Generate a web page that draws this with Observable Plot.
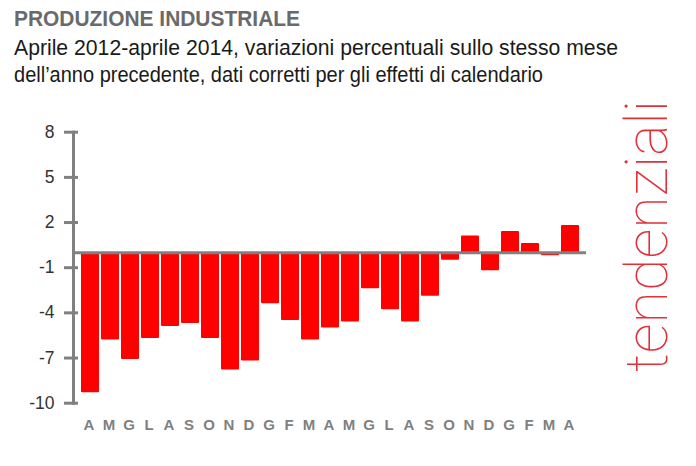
<!DOCTYPE html>
<html>
<head>
<meta charset="utf-8">
<script src="https://cdn.jsdelivr.net/npm/d3@7"></script>
<script src="https://cdn.jsdelivr.net/npm/@observablehq/plot@0.6"></script>
<style>
  html, body { margin: 0; padding: 0; background: #fff; }
  #wrap { position: relative; width: 696px; height: 466px; overflow: hidden; }
  .hd { position: absolute; left: 14px; font-family: "Liberation Sans", Arial, sans-serif; white-space: nowrap; transform-origin: 0 0; }
  #title { top: 6px; font-weight: bold; font-size: 22px; color: #6a6a6a; }
  #sub1 { top: 35px; font-size: 22px; color: #1a1a1a; }
  #sub2 { top: 62px; font-size: 22px; color: #1a1a1a; }
  #chart { position: absolute; left: 0; top: 100px; }
  #side { position: absolute; left: 0; top: 0; }
</style>
</head>
<body>
<div id="wrap">
  <div class="hd" id="title">PRODUZIONE INDUSTRIALE</div>
  <div class="hd" id="sub1">Aprile 2012-aprile 2014, variazioni percentuali sullo stesso mese</div>
  <div class="hd" id="sub2">dell’anno precedente, dati corretti per gli effetti di calendario</div>
  <div id="chart"></div>
  <svg id="side" width="696" height="466"></svg>
</div>
<script>
const months = ["A","M","G","L","A","S","O","N","D","G","F","M","A","M","G","L","A","S","O","N","D","G","F","M","A"];
const values = [-9.3, -5.8, -7.1, -5.7, -4.9, -4.7, -5.7, -7.8, -7.2, -3.4, -4.5, -5.8, -5.0, -4.6, -2.4, -3.8, -4.6, -2.9, -0.5, 1.1, -1.2, 1.4, 0.6, -0.2, 1.8];
const yTicks = [8, 5, 2, -1, -4, -7, -10];
const sideLabel = "tendenziali";

// condense header text (narrow face in the reference) to reference widths
[["title", 286], ["sub1", 604], ["sub2", 529]].forEach(([id, w]) => {
  const el = document.getElementById(id);
  const cur = el.getBoundingClientRect().width;
  el.style.transform = `scaleX(${w / cur})`;
});

const data = values.map((v, i) => ({i, v}));
const FONT = "'Liberation Sans', Arial, sans-serif";

const chart = Plot.plot({
  width: 696,
  height: 366,
  marginLeft: 73,
  marginRight: 110,
  marginTop: 31.7,
  marginBottom: 63.3,
  x: {type: "band", domain: d3.range(months.length), padding: 0.1, align: 0.5},
  y: {domain: [-10, 8]},
  marks: [
    Plot.barY(data, {x: "i", y: "v", fill: "#ff0000", rx: 1}),
    Plot.ruleY([0], {stroke: "#808080", strokeWidth: 3}),
    Plot.frame({anchor: "left", stroke: "#808080", strokeWidth: 3}),
    Plot.axisY(yTicks, {tickSize: 14, dx: 5, tickPadding: 10, stroke: "#808080", strokeWidth: 3, fill: "#333", fontSize: 17.5, fontFamily: FONT, tickFormat: d => String(d), label: null}),
    Plot.axisX({tickSize: 0, tickPadding: 16, dx: -1.5, tickFormat: i => months[i], fill: "#808080", fontSize: 15, fontWeight: "bold", fontFamily: FONT, label: null})
  ]
});
document.getElementById("chart").appendChild(chart);

const side = d3.select("#side");
side.append("text")
  .attr("transform", "translate(667,372) rotate(-90)")
  .attr("text-anchor", "start")
  .attr("font-family", "Roboto, Lato, sans-serif")
  .attr("font-weight", 100)
  .attr("font-size", 60)
  .attr("textLength", 272)
  .attr("lengthAdjust", "spacingAndGlyphs")
  .attr("fill", "#e0303a")
  .text(sideLabel);
</script>
</body>
</html>
